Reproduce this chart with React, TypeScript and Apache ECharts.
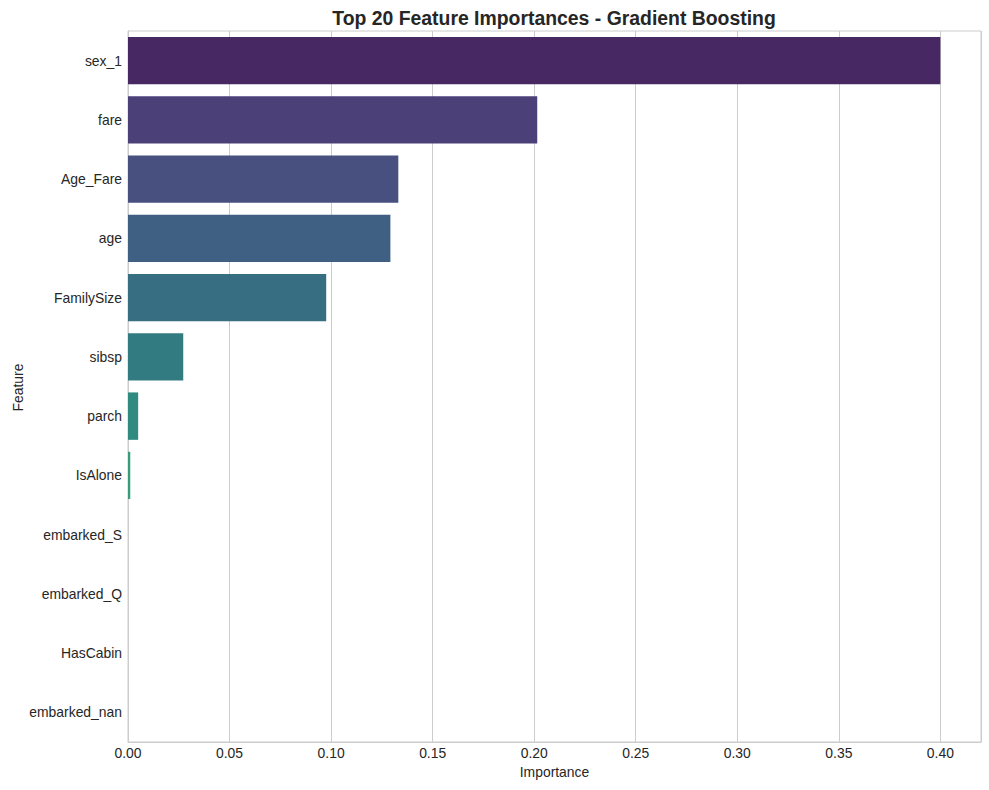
import React, { useEffect, useRef } from "react";
import * as echarts from "echarts";

const features = [
  "sex_1",
  "fare",
  "Age_Fare",
  "age",
  "FamilySize",
  "sibsp",
  "parch",
  "IsAlone",
  "embarked_S",
  "embarked_Q",
  "HasCabin",
  "embarked_nan",
];

const importances = [0.4, 0.2015, 0.1331, 0.1292, 0.0976, 0.0272, 0.005, 0.0011, 0, 0, 0, 0];

const barColors = [
  "#472862",
  "#4b4078",
  "#47507f",
  "#3f6082",
  "#376e82",
  "#327b81",
  "#2f8b7f",
  "#389c7b",
  "#50ad75",
  "#72be6a",
  "#93c553",
  "#baca36",
];

const xTicks = [0, 0.05, 0.1, 0.15, 0.2, 0.25, 0.3, 0.35, 0.4];

const FONT = "'Liberation Sans', Arial, sans-serif";
const TEXT = "#262626";

export default function App() {
  const ref = useRef<HTMLDivElement>(null);

  useEffect(() => {
    if (!ref.current) return;
    const chart = echarts.init(ref.current, undefined, { renderer: "svg" });
    chart.setOption({
      animation: false,
      backgroundColor: "#ffffff",
      textStyle: { fontFamily: FONT },
      title: {
        text: "Top 20 Feature Importances - Gradient Boosting",
        left: 549,
        top: 3,
        textAlign: "center",
        textStyle: { fontFamily: FONT, fontSize: 19.4, fontWeight: "bold", color: TEXT },
      },
      graphic: [
        {
          type: "text",
          x: 17.5,
          y: 387.5,
          rotation: Math.PI / 2,
          style: {
            text: "Feature",
            fontFamily: FONT,
            fontSize: 13.9,
            fill: TEXT,
            textAlign: "center",
            textVerticalAlign: "middle",
          },
        },
      ],
      grid: {
        left: 128,
        right: 8,
        top: 31,
        bottom: 48,
        outerBoundsMode: "none",
        containLabel: false,
        show: true,
        borderColor: "#cccccc",
        borderWidth: 1,
        backgroundColor: "transparent",
      },
      xAxis: {
        type: "value",
        min: 0,
        max: 0.42,
        interval: 0.05,
        name: "Importance",
        nameLocation: "middle",
        nameGap: 22,
        nameTextStyle: { fontFamily: FONT, fontSize: 13.9, color: TEXT },
        axisLine: { show: true, lineStyle: { color: "#cccccc", width: 1 } },
        axisTick: { show: false },
        axisLabel: {
          margin: 4,
          fontFamily: FONT,
          fontSize: 13.9,
          color: TEXT,
          showMaxLabel: false,
          formatter: (v: number) => {
            const hit = xTicks.some((t) => Math.abs(t - v) < 1e-9);
            return hit ? v.toFixed(2) : "";
          },
        },
        splitLine: { show: true, lineStyle: { color: "#cccccc", width: 1 } },
      },
      yAxis: {
        type: "category",
        data: features,
        inverse: true,
        axisLine: { show: true, lineStyle: { color: "#cccccc", width: 1 } },
        axisTick: { show: false },
        axisLabel: { margin: 6, fontFamily: FONT, fontSize: 13.9, color: TEXT },
        splitLine: { show: false },
      },
      series: [
        {
          type: "bar",
          barCategoryGap: "20%",
          data: importances.map((v, i) => ({
            value: v,
            itemStyle: { color: barColors[i] },
          })),
        },
      ],
    });
    return () => chart.dispose();
  }, []);

  return (
    <div
      ref={ref}
      style={{ position: "fixed", left: 0, top: 0, width: 989, height: 790 }}
    />
  );
}
